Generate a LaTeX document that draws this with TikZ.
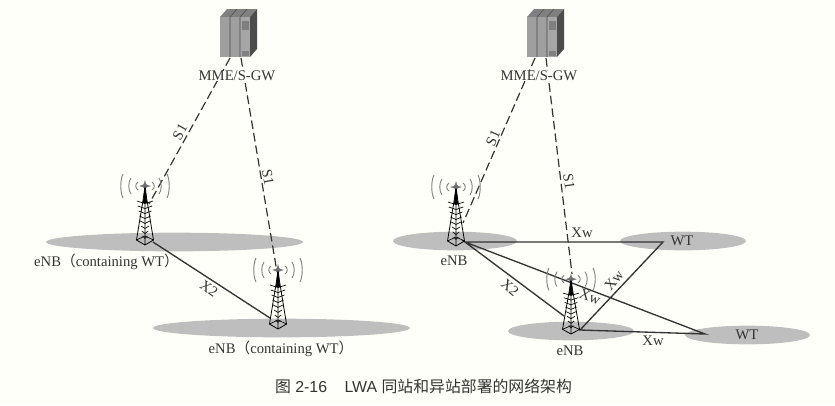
\documentclass[tikz,border=0pt]{standalone}
\usepackage{fontspec}
\setmainfont{Liberation Serif}
\newfontfamily\capfont{Liberation Sans}
\newfontfamily\cjkfont{Noto Sans CJK SC}
\usetikzlibrary{shapes.geometric}
\definecolor{cellgray}{HTML}{BEBEBE}
\definecolor{inkgray}{HTML}{333333}
\tikzset{
	cell/.style={ellipse,fill=cellgray,inner sep=0pt,minimum width=#1*.75pt,minimum height=14pt},
	link/.style={draw=inkgray,line width=1pt},
	sone/.style={draw=inkgray,line width=.9pt,dash pattern=on 6.5pt off 3pt},
	lab/.style={text=inkgray,font=\fontsize{11}{12}\selectfont,inner sep=0pt},
	tower/.pic={
		\foreach \r/\h in {7/4,14/8,22/12} {
			\draw[black!50,line width=.7pt] (-\r,-59-\h) .. controls (-\r-3,-59-\h/2) and (-\r-3,-59+\h/2) .. (-\r,-59+\h);
			\draw[black!50,line width=.7pt] (\r,-59-\h) .. controls (\r+3,-59-\h/2) and (\r+3,-59+\h/2) .. (\r,-59+\h);
		}
		\draw[black!55,line width=.7pt,-latex] (0,-59) -- (-6,-59);
		\draw[black!55,line width=.7pt,-latex] (0,-59) -- (6,-59);
		\draw[black!55,line width=.7pt,-latex] (0,-58) -- (0,-65);
		\fill[black] (-2,-42) -- (-.8,-57) -- (.8,-57) -- (2,-42) -- cycle;
		\draw[black,line width=.6pt] (0,-57) -- (-8.5,-5) -- (0,0) -- (8.5,-5) -- cycle (0,-57) -- (0,0);
		\foreach \y in {-44,-39,-34,-29,-24,-19,-14,-9} {
			\draw[black,line width=.5pt] ({\y*8.5/52-.8},\y) -- (0,\y+2.5) -- ({-\y*8.5/52+.8},\y);
		}
		\draw[black,line width=.5pt] (-8.5,-5) -- (0,-9) -- (8.5,-5);
	},
	server/.pic={
		\fill[gray!30!gray] (0,8) -- (7,0) -- (37,0) -- (30,8) -- cycle;
		\fill[gray!75] (0,8) rectangle (20,48);
		\fill[gray!70] (20,8) rectangle (30,48);
		\fill[gray!60!black] (30,8) -- (37,0) -- (37,40) -- (30,48) -- cycle;
		\fill[gray] (21.5,12) rectangle (29,21);
		\fill[gray] (21.5,42) rectangle (29,47);
		\draw[gray!60!black,line width=.4pt] (10,8) -- (10,48) (20,8) -- (20,48) (10,8) -- (17,0) (20,8) -- (27,0);
	}
}
\begin{document}
\begin{tikzpicture}[x=.75pt,y=-.75pt]
	\useasboundingbox (0,0) rectangle (835,405);
	\fill[white!98!yellow] (0,0) rectangle (835,405);
	% left part
	\node[cell=257] (cellLa) at (174.5,242) {};
	\node[cell=257] (cellLb) at (281.5,328) {};
	\coordinate (srvLa) at (230,58);
	\coordinate (srvLb) at (241,58);
	\coordinate (topLa) at (149,204);
	\coordinate (topLb) at (277,272);
	\coordinate (footLa) at (153,242);
	\coordinate (footLb) at (270,318);
	\draw[sone] (srvLa) -- (topLa);
	\draw[sone] (srvLb) -- (topLb);
	\draw[link] (footLa) -- (footLb);
	\pic at (145,245) {tower};
	\pic at (278,329) {tower};
	\pic at (220,9) {server};
	\node[lab,fill=white!98!yellow,inner xsep=1pt] (gwL) at (237,76) {MME/S-GW};
	\node[lab,rotate=61] (soneLa) at (180,132) {S1};
	\node[lab,rotate=-80] (soneLb) at (268,177) {S1};
	\node[lab,rotate=-35] (xtwoL) at (209,289) {X2};
	\node[lab] (enbLa) at (106.5,262) {eNB{\cjkfont（}containing WT{\cjkfont）}};
	\node[lab] (enbLb) at (281,349) {eNB{\cjkfont（}containing WT{\cjkfont）}};
	% right part
	\node[cell=124] (cellRa) at (455,241) {};
	\node[cell=126] (cellRb) at (683,241) {};
	\node[cell=126] (cellRc) at (571,331) {};
	\node[cell=125] (cellRd) at (747.5,335) {};
	\coordinate (srvRa) at (535,58);
	\coordinate (srvRb) at (546,58);
	\coordinate (topRa) at (463,223);
	\coordinate (topRb) at (572,274);
	\coordinate (hubRa) at (465,242);
	\coordinate (hubRb) at (663,242);
	\coordinate (hubRc) at (580,330);
	\coordinate (hubRd) at (705,334);
	\coordinate (footRc) at (564,316);
	\draw[sone] (srvRa) -- (topRa);
	\draw[sone] (srvRb) -- (topRb);
	\draw[link] (hubRa) -- (hubRb) -- (hubRc) -- (hubRd) -- (hubRa) -- (footRc);
	\pic at (456,246) {tower};
	\pic[yscale=.93] at (571,334) {tower};
	\pic at (527,9) {server};
	\node[lab,fill=white!98!yellow,inner xsep=1pt] (gwR) at (539,76) {MME/S-GW};
	\node[lab,rotate=65] (soneRa) at (493,138) {S1};
	\node[lab,rotate=-82] (soneRb) at (569,181) {S1};
	\node[lab] (xwRa) at (582,233) {Xw};
	\node[lab] (wtRa) at (682,241) {WT};
	\node[lab] (enbRa) at (454,261) {eNB};
	\node[lab,rotate=-40] (xtwoR) at (510,288) {X2};
	\node[lab,rotate=-20] (xwRb) at (590,297) {Xw};
	\node[lab,rotate=50] (xwRc) at (614,280) {Xw};
	\node[lab] (enbRb) at (570,351) {eNB};
	\node[lab] (xwRd) at (653,341) {Xw};
	\node[lab] (wtRb) at (747,335) {WT};
	% caption
	\node[text=inkgray,font=\capfont\fontsize{11.9}{13}\selectfont,inner sep=0pt] (caption) at (423.5,386) {{\cjkfont 图} 2-16\hspace{1.1em}LWA {\cjkfont 同站和异站部署的网络架构}};
\end{tikzpicture}
\end{document}
